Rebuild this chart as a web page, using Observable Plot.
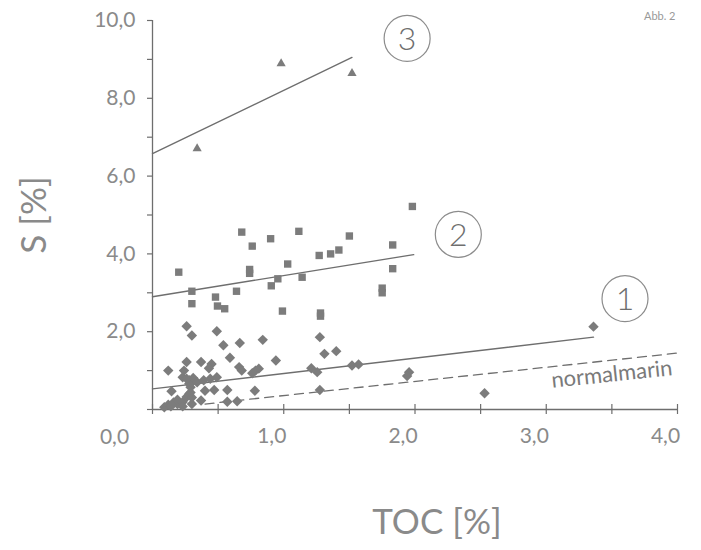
<!DOCTYPE html>
<html>
<head>
<meta charset="utf-8">
<script src="https://cdn.jsdelivr.net/npm/d3@7"></script>
<script src="https://cdn.jsdelivr.net/npm/@observablehq/plot@0.6"></script>
<style>
  html, body { margin: 0; padding: 0; background: #ffffff; }
  #chart { width: 701px; height: 550px; }
</style>
</head>
<body>
<div id="chart"></div>
<script>
// ---- data (TOC %, S %) ----
const group1Toc = [0.09,0.12,0.14,0.16,0.19,0.19,0.23,0.23,0.26,0.28,0.30,0.30,0.29,0.29,0.28,0.30,0.28,0.23,0.31,0.26,0.34,0.39,0.44,0.49,
  0.145,0.40,0.47,0.57,0.78,1.275,0.37,0.57,0.645,0.12,0.24,0.26,0.37,0.45,0.43,0.66,0.68,0.76,0.785,0.81,0.59,0.94,
  0.26,0.30,0.49,0.54,0.665,0.84,1.275,1.31,1.40,1.21,1.255,1.52,1.57,1.955,1.94,2.53,3.36];
const group1S = [0.06,0.12,0.08,0.18,0.14,0.25,0.19,0.08,0.32,0.40,0.14,0.31,0.44,0.57,0.66,0.70,0.75,0.83,0.81,0.79,0.70,0.75,0.79,0.83,
  0.47,0.48,0.50,0.50,0.48,0.50,0.23,0.20,0.21,1.00,1.00,1.22,1.22,1.17,1.06,1.09,1.00,0.93,1.00,1.05,1.33,1.26,
  2.14,1.90,2.01,1.65,1.71,1.79,1.86,1.43,1.50,1.06,0.96,1.13,1.16,0.96,0.86,0.42,2.13];

const group2Toc = [0.20,0.68,0.76,0.90,1.03,0.74,0.74,0.955,0.905,0.30,0.64,0.48,0.30,0.495,0.55,0.99,
  1.98,1.115,1.50,1.83,1.42,1.357,1.27,1.14,1.83,1.75,1.75,1.28,1.28];
const group2S = [3.53,4.56,4.20,4.39,3.74,3.60,3.50,3.36,3.18,3.04,3.04,2.89,2.72,2.66,2.59,2.53,
  5.22,4.58,4.46,4.23,4.10,4.00,3.96,3.40,3.62,3.12,3.00,2.48,2.40];

const group3Toc = [0.34, 0.98, 1.52];
const group3S = [6.71, 8.89, 8.64];

// regression lines (end points) and normal-marine line
const line1Toc = [0.0, 3.36]; const line1S = [0.53, 1.86];
const line2Toc = [0.0, 1.99]; const line2S = [2.90, 3.98];
const line3Toc = [0.0, 1.52]; const line3S = [6.58, 9.05];
const normalToc = [0.40, 4.0]; const normalS = [0.14, 1.45];

// group labels (circled numbers)
const groupLabels = ["1", "2", "3"];
const groupLabelToc = [3.60, 2.33, 1.94];
const groupLabelS = [2.85, 4.50, 9.54];

// axes
const xTickValues = [0, 0.5, 1, 1.5, 2, 2.5, 3, 3.5, 4];
const xLabelValues = [1, 2, 3, 4];
const yTickValues = [0,1,2,3,4,5,6,7,8,9,10];
const yLabelValues = [2, 4, 6, 8, 10];
const originLabel = "0,0";
const xTitle = "TOC [%]";
const yTitle = "S [%]";
const lineLabel = "normalmarin";
const figLabel = "Abb. 2";

const fmt = d => d.toFixed(1).replace(".", ",");
const zip = (xs, ys) => xs.map((x, i) => ({x, y: ys[i]}));

const g1 = zip(group1Toc, group1S);
const g2 = zip(group2Toc, group2S);
const g3 = zip(group3Toc, group3S);
const l1 = zip(line1Toc, line1S);
const l2 = zip(line2Toc, line2S);
const l3 = zip(line3Toc, line3S);
const ln = zip(normalToc, normalS);
const labels = groupLabels.map((t, i) => ({t, x: groupLabelToc[i], y: groupLabelS[i]}));

const ink = "#7c7c7c";
const lineInk = "#6e6e6e";
const textInk = "#8a8a8a";
const font = "Lato, 'Open Sans', sans-serif";

const chart = Plot.plot({
  width: 701,
  height: 550,
  marginLeft: 152,
  marginRight: 24,
  marginTop: 20,
  marginBottom: 141,
  style: {fontFamily: font, background: "#ffffff", color: textInk},
  x: {domain: [0, 4], axis: null},
  y: {domain: [0, 10], axis: null},
  marks: [
    // axis lines
    Plot.ruleY([0], {stroke: lineInk, strokeWidth: 1.3}),
    Plot.ruleX([0], {stroke: lineInk, strokeWidth: 1.3}),
    // ticks
    Plot.axisX({ticks: xTickValues, tickSize: 5, text: null, label: null, stroke: lineInk, strokeWidth: 1.2}),
    Plot.axisX({ticks: xTickValues, tickSize: -5, text: null, label: null, stroke: lineInk, strokeWidth: 1.2}),
    Plot.axisY({ticks: yTickValues, tickSize: 5, text: null, label: null, stroke: lineInk, strokeWidth: 1.2}),
    // tick labels
    Plot.axisX({ticks: xLabelValues, tickSize: 0, tickPadding: 19, tickFormat: fmt, label: null,
      fontSize: 21, fill: textInk, dx: -12}),
    Plot.axisY({ticks: yLabelValues, tickSize: 0, tickPadding: 17, tickFormat: fmt, label: null,
      fontSize: 21, fill: textInk}),
    Plot.text([originLabel], {x: 0, y: 0, text: d => d, fontSize: 21, fill: textInk,
      dx: -38, dy: 28}),
    // axis titles
    Plot.text([yTitle], {frameAnchor: "left", textAnchor: "middle", text: d => d, rotate: -90, fontSize: 35,
      fill: textInk, dx: -118, dy: 0}),
    Plot.text([xTitle], {frameAnchor: "bottom", text: d => d, fontSize: 35,
      fill: textInk, dx: 22, dy: 124}),
    // lines
    Plot.line(l1, {x: "x", y: "y", stroke: lineInk, strokeWidth: 1.4}),
    Plot.line(l2, {x: "x", y: "y", stroke: lineInk, strokeWidth: 1.4}),
    Plot.line(l3, {x: "x", y: "y", stroke: lineInk, strokeWidth: 1.4}),
    Plot.line(ln, {x: "x", y: "y", stroke: lineInk, strokeWidth: 1.3, strokeDasharray: "9,6"}),
    // data points
    Plot.dot(g1, {x: "x", y: "y", symbol: "diamond2", r: 4.7, fill: ink, stroke: "none"}),
    Plot.dot(g2, {x: "x", y: "y", symbol: "square2", r: 4.7, fill: ink, stroke: "none"}),
    Plot.dot(g3, {x: "x", y: "y", symbol: "triangle2", r: 4.4, fill: ink, stroke: "none"}),
    // circled group labels
    Plot.dot(labels, {x: "x", y: "y", r: 23, stroke: "#8c8c8c", strokeWidth: 1.2, fill: "white"}),
    Plot.text(labels, {x: "x", y: "y", text: "t", fontSize: 32, fill: "#6f6f6f", fontWeight: 300, dy: 1}),
    // normalmarin label
    Plot.text([lineLabel], {x: 3.50, y: 0.90, text: d => d, fontSize: 22, fill: "#7a7a7a", rotate: -6}),
    // figure label
    Plot.text([figLabel], {frameAnchor: "top-right", text: d => d, fontSize: 11, fill: "#999",
      dx: -2, dy: -8})
  ]
});
document.getElementById("chart").appendChild(chart);
</script>
</body>
</html>
